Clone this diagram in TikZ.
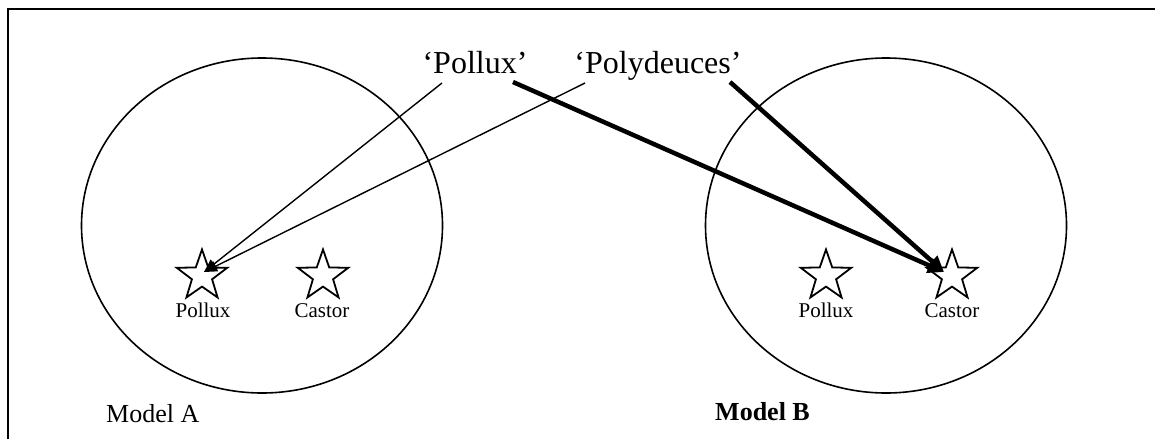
\documentclass[tikz,border=0pt]{standalone}
\usepackage{fontspec}
\setmainfont{Liberation Serif}
\usetikzlibrary{shapes.geometric,arrows.meta}
\begin{document}
\begin{tikzpicture}[x=1pt,y=-1pt,
  starnode/.style={draw,line width=1.8pt,star,star points=5,star point ratio=2.5,minimum size=53pt,inner sep=0pt},
  smalllabel/.style={font=\fontsize{21}{25}\selectfont,anchor=base,inner sep=0pt},
  biglabel/.style={font=\fontsize{32}{38}\selectfont,anchor=base,inner sep=0pt},
  modellabel/.style={font=\fontsize{26}{30}\selectfont,anchor=base west,inner sep=0pt},
  thinarrow/.style={line width=1.4pt,-{Triangle[length=13pt,width=11pt]}},
  thickarrow/.style={line width=4.5pt,-{Triangle[length=16pt,width=15pt]}},
  model/.style={draw,line width=1.6pt,ellipse,minimum width=361pt,minimum height=335pt,inner sep=0pt}
]
\useasboundingbox (0,0) rectangle (1155,439);
\draw[line width=1.6pt] (8,439) -- (8,9) -- (1155,9);
% models
\node[model] (mA) at (262,225.5) {};
\node[model] (mB) at (886,225.5) {};
% stars
\node[starnode] (pA) at (202,276) {};
\node[starnode] (cA) at (323,276) {};
\node[starnode] (pB) at (826,276) {};
\node[starnode] (cB) at (952,276) {};
\node[smalllabel] (lpA) at (203,317) {Pollux};
\node[smalllabel] (lcA) at (322,317) {Castor};
\node[smalllabel] (lpB) at (826,317) {Pollux};
\node[smalllabel] (lcB) at (952,317) {Castor};
% top names
\node[biglabel] (qP) at (475,73) {‘Pollux’};
\node[biglabel] (qD) at (658,73) {‘Polydeuces’};
\coordinate (s1) at (442,83);
\coordinate (s2) at (585,83);
\coordinate (s3) at (513,82);
\coordinate (s4) at (730,82);
\coordinate (tA) at (204,272);
\coordinate (tB) at (944,272);
\draw[thinarrow] (s1) -- (tA);
\draw[thinarrow] (s2) -- (tA);
\draw[thickarrow] (s3) -- (tB);
\draw[thickarrow] (s4) -- (tB);
% model labels
\node[modellabel] (mlA) at (106,422) {Model A};
\node[modellabel,font=\fontsize{26}{30}\selectfont\bfseries] (mlB) at (715,420) {Model B};
\end{tikzpicture}
\end{document}
